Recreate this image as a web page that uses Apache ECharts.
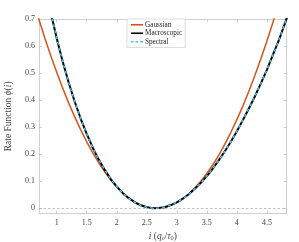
<!DOCTYPE html>
<html>
<head>
<meta charset="utf-8">
<script src="https://cdn.jsdelivr.net/npm/echarts@6/dist/echarts.min.js"></script>
<style>html,body{margin:0;padding:0;background:#fff}#c{width:299px;height:242px}</style>
</head>
<body>
<div id="c"></div>
<script>
// ---- data ----
const iValues = [0.8,0.9,1.0,1.1,1.2,1.3,1.4,1.5,1.6,1.7,1.8,1.9,2.0,2.1,2.2,2.3,2.4,2.5,2.6,2.7,2.8,2.9,3.0,3.1,3.2,3.3,3.4,3.5,3.6,3.7,3.8,3.9,4.0,4.1,4.2,4.3,4.4,4.5,4.6,4.7,4.8,4.9];
const macroscopic = [0.832,0.725,0.629,0.542,0.464,0.394,0.331,0.275,0.224,0.180,0.142,0.108,0.080,0.056,0.037,0.022,0.011,0.004,0.000,0.001,0.004,0.012,0.022,0.036,0.052,0.072,0.094,0.119,0.147,0.178,0.211,0.246,0.285,0.326,0.369,0.414,0.462,0.512,0.567,0.622,0.684,0.745];
const spectral = [0.832,0.725,0.629,0.542,0.464,0.394,0.331,0.275,0.224,0.180,0.142,0.108,0.080,0.056,0.037,0.022,0.011,0.004,0.000,0.001,0.004,0.012,0.022,0.036,0.052,0.072,0.094,0.119,0.147,0.178,0.211,0.246,0.285,0.326,0.369,0.414,0.462,0.512,0.567,0.622,0.684,0.745];
const gaussI = [0.6,0.7,0.8,0.9,1.0,1.1,1.2,1.3,1.4,1.5,1.6,1.7,1.8,1.9,2.0,2.1,2.2,2.3,2.4,2.5,2.6,2.7,2.8,2.9,3.0,3.1,3.2,3.3,3.4,3.5,3.6,3.7,3.8,3.9,4.0,4.1,4.2,4.3,4.4,4.5,4.6,4.7];
const gaussian = [0.774,0.701,0.631,0.565,0.503,0.444,0.389,0.338,0.290,0.246,0.205,0.168,0.135,0.105,0.079,0.057,0.039,0.024,0.012,0.005,0.001,0.000,0.004,0.011,0.021,0.035,0.053,0.075,0.100,0.129,0.161,0.197,0.237,0.281,0.328,0.378,0.433,0.491,0.553,0.618,0.687,0.760];
const xTicks = [1,1.5,2,2.5,3,3.5,4,4.5];
const yTicks = [0,0.1,0.2,0.3,0.4,0.5,0.6,0.7];
const seriesNames = ['Gaussian','Macroscopic','Spectral'];

const zip = (a,b) => a.map((v,k)=>[v,b[k]]);
const FONT = 'Liberation Serif';
const AX = '#c4c4c4';
const XMIN = 0.705, XMAX = 4.83, YMIN = -0.02, YMAX = 0.7;

const chart = echarts.init(document.getElementById('c'), null, {renderer:'canvas'});
const xBase = {
  type:'value', min:XMIN, max:XMAX,
  axisLine:{show:true, onZero:false, lineStyle:{color:AX, width:0.8}},
  splitLine:{show:false}
};
const yBase = {
  type:'value', min:YMIN, max:YMAX,
  axisLine:{show:true, onZero:false, lineStyle:{color:AX, width:0.8}},
  splitLine:{show:false}
};
const solidIcon = 'path://M0,0H12V1.6H0Z';
const dashIcon = 'path://M0,0H2.5V1.6H0Z M4.5,0H7V1.6H4.5Z M9,0H12V1.6H9Z';
chart.setOption({
  animation:false,
  backgroundColor:'#fff',
  grid:{left:39, top:19, right:12.3, bottom:28.3, containLabel:false, outerBoundsMode:'none'},
  legend:{
    orient:'vertical', left:127, top:19,
    data:[
      {name:seriesNames[0], icon:solidIcon},
      {name:seriesNames[1], icon:solidIcon},
      {name:seriesNames[2], icon:dashIcon}
    ],
    itemWidth:12, itemHeight:2, itemGap:0,
    padding:[1.5,3,1.5,4],
    backgroundColor:'#fff', borderColor:'#c8c8c8', borderWidth:0.6, borderRadius:0,
    textStyle:{fontFamily:FONT, fontSize:7.2, color:'#222', lineHeight:8.5, padding:[0,0,0,-3]}
  },
  xAxis:[
    Object.assign({}, xBase, {
      position:'bottom',
      axisTick:{show:true, inside:true, length:3, customValues:xTicks, lineStyle:{color:AX, width:0.8}},
      axisLabel:{show:true, customValues:xTicks, fontFamily:FONT, fontSize:8, color:'#444', margin:5},
      name:'{it|i} ({it|q}{sub|c}/{it|τ}{sub|0})',
      nameLocation:'middle', nameGap:14,
      nameTextStyle:{fontFamily:FONT, fontSize:9.5, color:'#444',
        rich:{it:{fontFamily:FONT, fontStyle:'italic', fontSize:9.5, color:'#444'},
              sub:{fontFamily:FONT, fontSize:6.5, color:'#444', padding:[4,0,0,0]}}}
    }),
    Object.assign({}, xBase, {
      position:'top',
      axisTick:{show:true, inside:true, length:3, customValues:xTicks, lineStyle:{color:AX, width:0.8}},
      axisLabel:{show:false}
    })
  ],
  yAxis:[
    Object.assign({}, yBase, {
      position:'left',
      axisTick:{show:true, inside:true, length:3, customValues:yTicks, lineStyle:{color:AX, width:0.8}},
      axisLabel:{show:true, customValues:yTicks, fontFamily:FONT, fontSize:8, color:'#444', margin:4},
      name:'Rate Function {it|ϕ}({it|i})',
      nameLocation:'middle', nameGap:26,
      nameTextStyle:{fontFamily:FONT, fontSize:9.5, color:'#444',
        rich:{it:{fontFamily:FONT, fontStyle:'italic', fontSize:9.5, color:'#444'}}}
    }),
    Object.assign({}, yBase, {
      position:'right',
      axisTick:{show:true, inside:true, length:3, customValues:yTicks, lineStyle:{color:AX, width:0.8}},
      axisLabel:{show:false}
    })
  ],
  series:[
    {
      name:'Gaussian', type:'line', data:zip(gaussI, gaussian),
      symbol:'none', clip:true, color:'#D95319',
      lineStyle:{color:'#D95319', width:1.5},
      z:3,
      markLine:{
        silent:true, symbol:'none', label:{show:false},
        lineStyle:{color:'#a8a8a8', type:[2.5,2], width:0.7},
        data:[{yAxis:0}]
      }
    },
    {
      name:'Macroscopic', type:'line', data:zip(iValues, macroscopic),
      symbol:'none', clip:true, color:'#000',
      lineStyle:{color:'#000', width:2}, z:4
    },
    {
      name:'Spectral', type:'line', data:zip(iValues, spectral),
      symbol:'none', clip:true, color:'#4DBEEE',
      lineStyle:{color:'#4DBEEE', width:1.5, type:[3,3]}, z:5
    }
  ]
});
</script>
</body>
</html>
